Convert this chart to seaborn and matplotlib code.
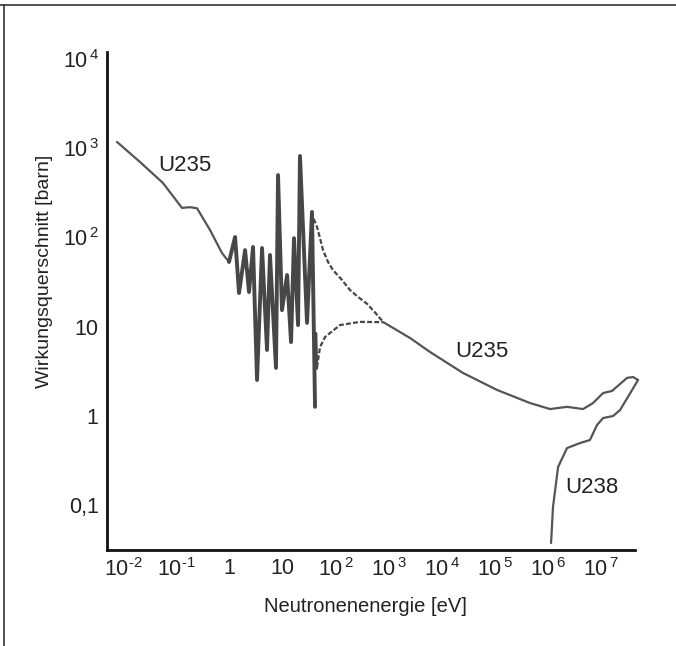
import numpy as np
import pandas as pd
import seaborn as sns
import matplotlib
matplotlib.use("Agg")
import matplotlib.pyplot as plt
from matplotlib.lines import Line2D

# U235: thermal region (eV, barn)
u235_low_e = [0.0077, 0.0209, 0.0566, 0.129, 0.183, 0.248, 0.435, 0.731, 0.99]
u235_low_s = [1175, 700, 407, 214, 218, 212, 121, 66.8, 53]

# U235: resonance region
u235_res_e = [0.99, 1.29, 1.53, 1.99, 2.36, 2.81, 3.34, 4.15, 5.15, 5.86, 7.6, 8.3,
              9.86, 12.3, 14.6, 16.6, 19.8, 21.5, 29.2, 36.2, 41.3]
u235_res_s = [53, 101, 23.8, 72, 24.4, 78, 2.52, 76, 5.47, 63.5, 3.44, 500,
              15.3, 37.8, 6.7, 98, 10.4, 818, 11.0, 193, 1.26]

# short stroke after last resonance
u235_stub_e = [43.0, 44.5]
u235_stub_s = [8.4, 3.4]

# dashed envelopes
env_up_e = [36.2, 37.8, 45, 51.3, 58.3, 72.6, 90, 133, 188, 267, 394, 557, 800]
env_up_s = [193, 169, 131, 98, 72.3, 53, 43, 33.3, 25.7, 21.5, 18.0, 14.4, 11.2]
env_lo_e = [45, 51.3, 63.7, 122, 290, 800]
env_lo_s = [3.5, 5.9, 7.64, 10.4, 11.3, 11.2]

# U235: fast region
u235_high_e = [800, 2540, 6050, 25300, 110000, 462000, 1.1e6, 2.3e6, 4.6e6, 7.1e6,
               1.10e7, 1.62e7, 3.1e7, 4.03e7, 5.0e7]
u235_high_s = [11.2, 7.45, 5.19, 3.02, 1.95, 1.39, 1.19, 1.26, 1.19, 1.39,
               1.80, 1.90, 2.66, 2.72, 2.52]

# U238
u238_e = [1.15e6, 1.25e6, 1.56e6, 2.3e6, 4.04e6, 6.2e6, 8.45e6, 1.10e7, 1.69e7, 2.29e7, 5.0e7]
u238_s = [0.0375, 0.095, 0.267, 0.435, 0.495, 0.535, 0.79, 0.944, 0.995, 1.16, 2.52]

xticks = [1e-2, 1e-1, 1, 10, 1e2, 1e3, 1e4, 1e5, 1e6, 1e7]
xtick_labels = [r"$10^{\text{-}2}$", r"$10^{\text{-}1}$", "1", "10", r"$10^{\,2}$", r"$10^{\,3}$",
                r"$10^{\,4}$", r"$10^{\,5}$", r"$10^{\,6}$", r"$10^{\,7}$"]
yticks = [0.1, 1, 10, 1e2, 1e3, 1e4]
ytick_labels = ["0,1", "1", "10", r"$10^{\,2}$", r"$10^{\,3}$", r"$10^{\,4}$"]

sns.set_style("white")
plt.rcParams["font.family"] = ["Liberation Sans", "DejaVu Sans"]
plt.rcParams["mathtext.fontset"] = "custom"
plt.rcParams["mathtext.rm"] = "Liberation Sans"
plt.rcParams["mathtext.it"] = "Liberation Sans"
plt.rcParams["mathtext.default"] = "rm"

fig = plt.figure(figsize=(6.76, 6.46), dpi=100)
ax = fig.add_axes([0.1583, 0.1486, 0.7810, 0.7709])
ax.set_xscale("log")
ax.set_yscale("log")

grey = "#555555"
dark = "#474747"


def draw(e, s, **kw):
    df = pd.DataFrame({"E": e, "sigma": s})
    sns.lineplot(data=df, x="E", y="sigma", sort=False, estimator=None, ax=ax,
                 solid_joinstyle="round", solid_capstyle="round", clip_on=False, **kw)


draw(u235_low_e, u235_low_s, color=grey, lw=1.6)
draw(u235_res_e, u235_res_s, color=dark, lw=2.8)
draw(u235_stub_e, u235_stub_s, color=dark, lw=2.0)
draw(env_up_e, env_up_s, color=dark, lw=1.6, dashes=(2.2, 1.0))
draw(env_lo_e, env_lo_s, color=dark, lw=1.6, dashes=(2.2, 1.0))
draw(u235_high_e, u235_high_s, color=grey, lw=1.6)
draw(u238_e, u238_s, color=grey, lw=1.6)

ax.set_xlim(0.005, 4.37e7)
ax.set_ylim(0.0313, 11970)
ax.set_xticks(xticks)
ax.set_xticklabels(xtick_labels)
ax.set_yticks(yticks)
ax.set_yticklabels(ytick_labels)
ax.minorticks_off()

for side in ["top", "right"]:
    ax.spines[side].set_visible(False)
for side in ["left", "bottom"]:
    ax.spines[side].set_color("#111111")
    ax.spines[side].set_linewidth(2.0)

ax.tick_params(axis="both", direction="in", length=7.5, width=1.6, color="#111111",
               labelsize=15.5, labelcolor="#222222")
ax.tick_params(axis="x", pad=6)
ax.tick_params(axis="y", pad=6)

ax.set_xlabel("Neutronenenergie [eV]", fontsize=14.5, color="#222222", labelpad=12)
ax.xaxis.set_label_coords(0.49, -0.095)
ax.set_ylabel("Wirkungsquerschnitt [barn]", fontsize=14, color="#222222")
ax.yaxis.set_label_coords(-0.102, 0.56)

txt = dict(fontsize=16, color="#222222", ha="left", va="center")
ax.text(0.0456, 646, "U235", **txt)
ax.text(17900, 5.19, "U235", **txt)
ax.text(2.11e6, 0.159, "U238", **txt)

# image frame lines (top and left)
fig.add_artist(Line2D([0, 1], [0.992, 0.992], color="#333333", lw=1.2))
fig.add_artist(Line2D([0.006, 0.006], [0, 0.992], color="#333333", lw=1.2))

fig.savefig("out.png", dpi=100)
